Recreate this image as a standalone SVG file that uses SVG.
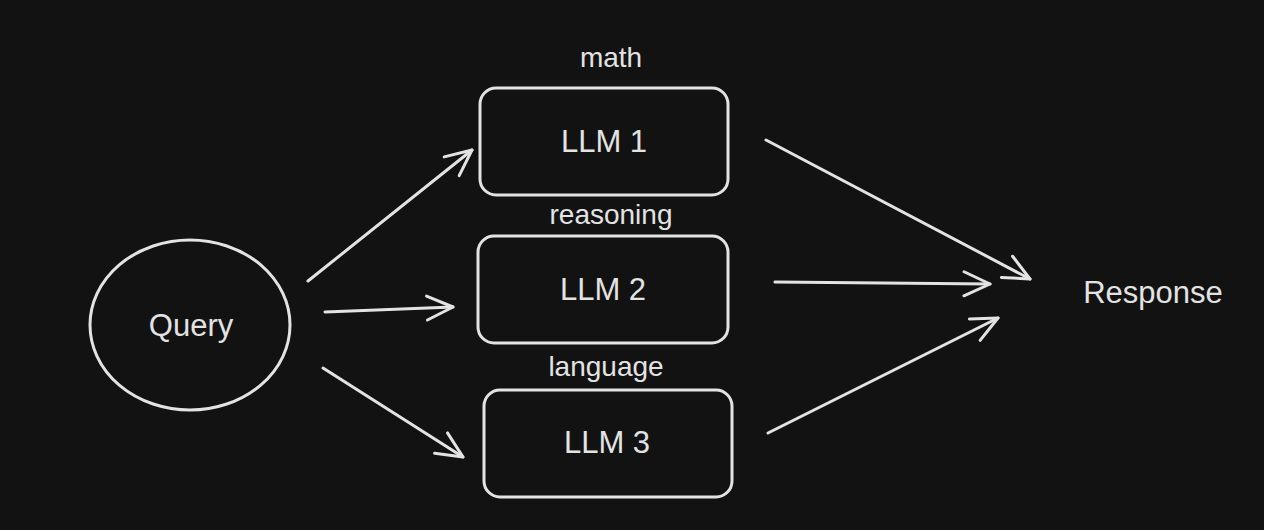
<svg xmlns="http://www.w3.org/2000/svg" width="1264" height="530" viewBox="0 0 1264 530">
<style>
.s{fill:none;stroke:#e3e3e3;stroke-width:3;stroke-linecap:round;stroke-linejoin:round}
.t{fill:#e3e3e3;font-family:"Liberation Sans",Arial,sans-serif;font-size:31px;text-anchor:middle;dominant-baseline:central}
.l{font-size:28px}
</style>
<defs>
<marker id="a" viewBox="0 0 30 30" refX="28" refY="15" markerWidth="30" markerHeight="30" markerUnits="userSpaceOnUse" orient="auto">
<path d="M2 3 L28 15 L2 27" fill="none" stroke="#e3e3e3" stroke-width="3" stroke-linecap="round" stroke-linejoin="round"/>
</marker>
</defs>
<rect width="1264" height="530" fill="#121212"/>
<g id="query"><ellipse class="s" cx="190" cy="325" rx="100" ry="85"/><text class="t" x="191" y="325">Query</text></g>
<g id="llm1"><rect class="s" x="480" y="88" width="248" height="107" rx="16"/><text class="t" x="604" y="141">LLM 1</text></g>
<g id="llm2"><rect class="s" x="478" y="236" width="250" height="107" rx="16"/><text class="t" x="603" y="289">LLM 2</text></g>
<g id="llm3"><rect class="s" x="484" y="390" width="248" height="107" rx="16"/><text class="t" x="607" y="442">LLM 3</text></g>
<g id="labels">
<text class="t l" x="611" y="57">math</text>
<text class="t l" x="611" y="214">reasoning</text>
<text class="t l" x="606" y="366">language</text>
</g>
<g id="response"><text class="t" x="1153" y="292">Response</text></g>
<g id="connectors">
<path class="s" d="M308 281 L472 150" marker-end="url(#a)"/>
<path class="s" d="M325 312 L453 307" marker-end="url(#a)"/>
<path class="s" d="M323 368 L463 457" marker-end="url(#a)"/>
<path class="s" d="M766 140 L1030 279" marker-end="url(#a)"/>
<path class="s" d="M775 282 L990 284" marker-end="url(#a)"/>
<path class="s" d="M768 433 L998 318" marker-end="url(#a)"/>
</g>
</svg>
